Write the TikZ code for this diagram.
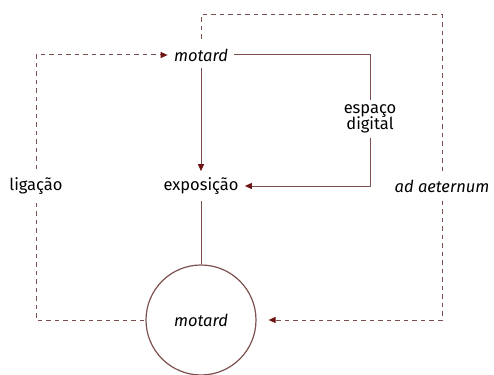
\documentclass[tikz,border=0pt]{standalone}
\usepackage{fontspec}
\setmainfont{Fira Sans}
\usetikzlibrary{arrows.meta}
\definecolor{linecol}{RGB}{125,80,80}
\definecolor{tipcol}{RGB}{110,20,20}

\begin{document}
\begin{tikzpicture}[x=1pt,y=-1pt,>={Triangle[length=7pt,width=6pt,color=tipcol]},
    thick,
    word/.style={font=\fontsize{16.5}{17}\selectfont, inner sep=6pt},
    solidline/.style={draw=linecol, line width=1pt},
    dashline/.style={draw=linecol, line width=1pt, dash pattern=on 4.5pt off 4pt}]

            \useasboundingbox (0,0) rectangle (494,374);

            \node[word] (top) at (201,55) {\itshape motard};
            \node[word] (expo) at (201,186) {exposição};
            \node[word, align=center, inner sep=4pt] (espaco) at (370,119) {espaço\\[-1pt]digital};
            \node[word, inner sep=8pt] (lig) at (36,186) {ligação};
            \node[word, inner sep=8pt] (aet) at (442,186) {\itshape ad aeternum};
            \node[circle, draw=linecol, line width=1.2pt, minimum size=110pt, font=\fontsize{16.5}{17}\selectfont] (circ) at (201,320) {\itshape motard};
            \coordinate (corner) at (442,15);

            \draw[solidline, ->] (top) to (expo);
            \draw[solidline] (top.east) -| (espaco.north);
            \draw[solidline, ->] (espaco.south) |- (expo.east);
            \draw[solidline] (expo.south) to (circ.north);

            \draw[dashline, ->] (lig.north) |- (top.west);
            \draw[dashline] (lig.south) |- (circ.west);
            \draw[dashline] (aet.north) -- (corner) -| (top.north);
            \draw[dashline, ->, shorten >=12pt] (aet.south) |- (circ.east);

        \end{tikzpicture}
\end{document}
